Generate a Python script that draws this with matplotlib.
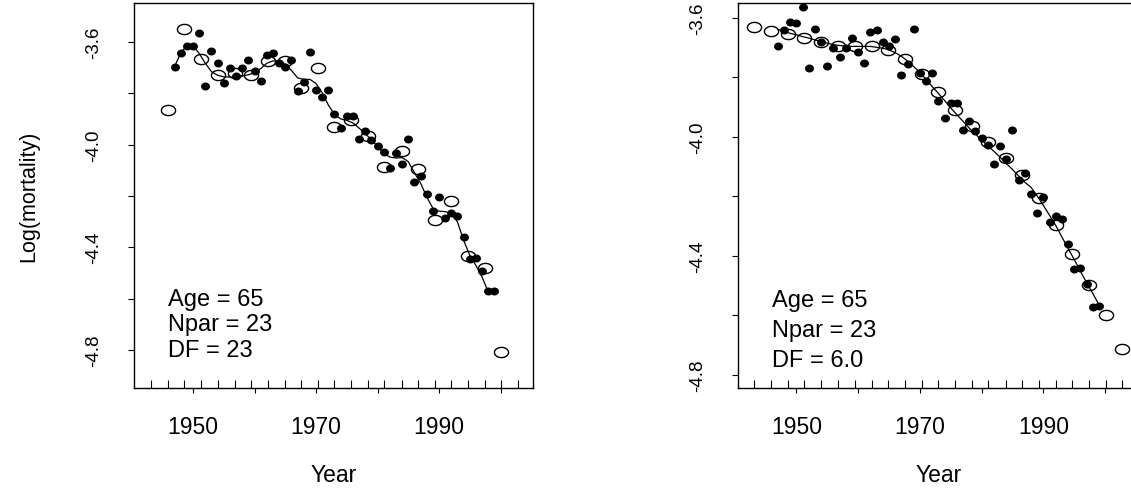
import numpy as np
import matplotlib
matplotlib.use("Agg")
import matplotlib.pyplot as plt
from matplotlib.path import Path
from matplotlib.transforms import blended_transform_factory

plt.rcParams['font.family'] = ['Liberation Sans', 'DejaVu Sans']

# observed log mortality, age 65, one value per year
years = list(range(1947, 2000))
log_mortality = [
    -3.695, -3.642, -3.613, -3.616, -3.565, -3.769, -3.636, -3.680, -3.761, -3.700,
    -3.730, -3.702, -3.668, -3.714, -3.752, -3.648, -3.642, -3.682, -3.696, -3.670,
    -3.792, -3.756, -3.638, -3.786, -3.812, -3.785, -3.880, -3.936, -3.886, -3.886,
    -3.976, -3.946, -3.982, -4.004, -4.027, -4.090, -4.032, -4.074, -3.976, -4.146,
    -4.122, -4.191, -4.257, -4.203, -4.286, -4.266, -4.277, -4.359, -4.444, -4.440,
    -4.494, -4.572, -4.569]

# fitted curves (DF = 23 and DF = 6.0)
fit_df23 = [
    -3.695, -3.641, -3.614, -3.614, -3.644, -3.682, -3.715, -3.729, -3.735, -3.736,
    -3.736, -3.732, -3.727, -3.719, -3.703, -3.682, -3.673, -3.673, -3.686, -3.710,
    -3.739, -3.745, -3.745, -3.761, -3.797, -3.845, -3.882, -3.899, -3.905, -3.915,
    -3.935, -3.957, -3.980, -4.007, -4.033, -4.048, -4.052, -4.050, -4.066, -4.109,
    -4.150, -4.203, -4.248, -4.259, -4.261, -4.268, -4.301, -4.373, -4.431, -4.471,
    -4.516, -4.575, -4.572]
fit_df6 = [
    -3.639, -3.645, -3.652, -3.657, -3.663, -3.668, -3.674, -3.680, -3.685, -3.690,
    -3.693, -3.695, -3.696, -3.696, -3.696, -3.696, -3.699, -3.702, -3.708, -3.717,
    -3.729, -3.745, -3.764, -3.783, -3.807, -3.831, -3.854, -3.878, -3.903, -3.926,
    -3.948, -3.971, -3.991, -4.011, -4.030, -4.049, -4.069, -4.090, -4.110, -4.132,
    -4.153, -4.170, -4.199, -4.231, -4.264, -4.298, -4.337, -4.375, -4.413, -4.452,
    -4.491, -4.527, -4.565]

# knot positions (rug) and spline coefficients (open circles)
knots = [1943.2, 1945.9, 1948.6, 1951.3, 1954.0, 1956.8, 1959.5, 1962.2,
         1964.9, 1967.6, 1970.3, 1973.0, 1975.7, 1978.4, 1981.1, 1983.9,
         1986.6, 1989.3, 1992.0, 1994.7, 1997.4, 2000.1, 2002.8]
coef_df23 = [np.nan, -3.863, -3.549, -3.664, -3.729, -3.719, -3.729, -3.673,
             -3.673, -3.778, -3.702, -3.931, -3.902, -3.965, -4.085, -4.023,
             -4.095, -4.294, -4.218, -4.435, -4.480, -4.807, np.nan]
coef_df6 = [-3.631, -3.643, -3.654, -3.668, -3.682, -3.693, -3.693, -3.693,
            -3.708, -3.738, -3.788, -3.848, -3.909, -3.964, -4.018, -4.072,
            -4.130, -4.206, -4.296, -4.393, -4.497, -4.601, -4.713]

panel_text = [["Age = 65", "Npar = 23", "DF = 23"],
              ["Age = 65", "Npar = 23", "DF = 6.0"]]


def ellipse(aspect):
    t = np.linspace(0, 2 * np.pi, 41)
    return Path(np.column_stack([np.cos(t), aspect * np.sin(t)]), closed=True)


dot = ellipse(0.88)
ring = ellipse(0.72)

W, H = 1131, 489
fig = plt.figure(figsize=(W / 100, H / 100), dpi=100)

ax1 = fig.add_axes([134 / W, 100 / H, 399.3 / W, 385 / H])
ax2 = fig.add_axes([738.3 / W, 100 / H, 401.4 / W, 385 / H])

panels = [
    (ax1, fit_df23, coef_df23, (1940.4, 2005.33), (-4.949, -3.447), [-4.6, -4.7, -4.8]),
    (ax2, fit_df6, coef_df6, (1940.6, 2005.6), (-4.845, -3.550), [-4.55, -4.65, -4.75]),
]

for i, (ax, fit, coef, xl, yl, ty) in enumerate(panels):
    ax.plot(knots, coef, linestyle='none', marker=ring, markersize=10.2,
            markerfacecolor='none', markeredgecolor='black', markeredgewidth=1.0)
    ax.plot(years, fit, color='black', lw=0.9)
    ax.plot(years, log_mortality, linestyle='none', marker=dot, markersize=5.4,
            color='black')

    ax.set_xlim(*xl)
    ax.set_ylim(*yl)

    ax.set_xticks([1950, 1960, 1970, 1980, 1990, 2000])
    ax.set_xticklabels(['1950', '', '1970', '', '1990', ''])
    ax.set_yticks([-3.6, -3.8, -4.0, -4.2, -4.4, -4.6, -4.8])
    ax.set_yticklabels(['-3.6', '', '-4.0', '', '-4.4', '', '-4.8'])
    ax.tick_params(axis='x', direction='out', length=3.6, width=0.8,
                   labelsize=16.5, pad=16)
    ax.tick_params(axis='y', direction='out', length=4.3, width=0.8,
                   labelsize=13.5, pad=19, labelrotation=90)
    for lab in ax.get_yticklabels():
        lab.set_va('center')

    # knot rug along the bottom edge
    tr = blended_transform_factory(ax.transData, ax.transAxes)
    ax.vlines(knots, 0, 8 / 385, transform=tr, color='black', lw=0.8)

    for sp in ax.spines.values():
        sp.set_linewidth(1.0)
        sp.set_color('black')

    for s, y in zip(panel_text[i], ty):
        ax.text(1946, y, s, ha='left', va='center', fontsize=17)

    ax.set_xlabel('Year', fontsize=16.5)
    ax.xaxis.set_label_coords(0.5, -0.195)

ax1.set_ylabel('Log(mortality)', fontsize=15.5)
ax1.yaxis.set_label_coords(-0.238, 0.5)

fig.savefig('out.png', dpi=100)
